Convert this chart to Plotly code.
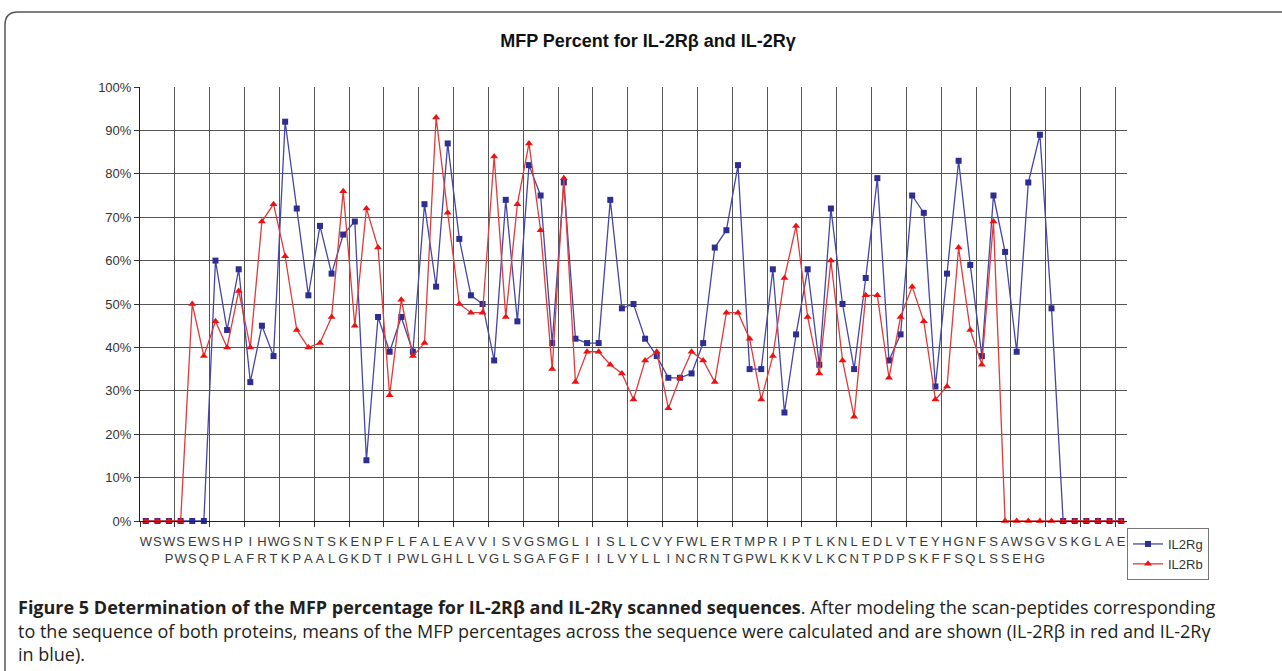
import plotly.graph_objects as go

# ---- data ----
top_letters = list("WSWSEWSHPIHWGSNTSKENPFLFALEAVVISVGSMGLIISLLCVYFWLERTMPRIPTLKNLEDLVTEYHGNFSAWSGVSKGLAE")
bottom_letters = list("PWSQPLAFRTKPAALGKDTIPWLGHLLVGLSGAFGFIILVYLLINCRNTGPWLKKVLKCNTPDPSKFFSQLSSEHG")
bottom_offset = 2  # second label row starts under the third position

il2rg = [0, 0, 0, 0, 0, 0,
         60, 44, 58, 32, 45, 38, 92, 72, 52, 68, 57, 66, 69, 14, 47, 39,
         47, 39, 73, 54, 87, 65, 52, 50, 37, 74, 46, 82, 75, 41, 78, 42, 41, 41, 74, 49, 50,
         42, 38, 33, 33, 34, 41, 63, 67, 82, 35, 35, 58, 25, 43, 58, 36, 72, 50, 35, 56, 79, 37,
         43, 75, 71, 31, 57, 83, 59, 38, 75, 62, 39, 78, 89, 49,
         0, 0, 0, 0, 0, 0]
il2rb = [0, 0, 0, 0,
         50, 38, 46, 40, 53, 40, 69, 73, 61, 44, 40, 41, 47, 76, 45, 72, 63, 29,
         51, 38, 41, 93, 71, 50, 48, 48, 84, 47, 73, 87, 67, 35, 79, 32, 39, 39, 36, 34, 28,
         37, 39, 26, 33, 39, 37, 32, 48, 48, 42, 28, 38, 56, 68, 47, 34, 60, 37, 24, 52, 52, 33,
         47, 54, 46, 28, 31, 63, 44, 36, 69,
         0, 0, 0, 0, 0, 0, 0, 0, 0, 0, 0]
y_ticks = [0, 10, 20, 30, 40, 50, 60, 70, 80, 90, 100]

n = len(top_letters)
positions = list(range(n))
tick_text = []
for i in positions:
    j = i - bottom_offset
    if 0 <= j < len(bottom_letters):
        tick_text.append(top_letters[i] + "<br>" + bottom_letters[j])
    else:
        tick_text.append(top_letters[i])

W, H = 1282, 671
ML, MR, MT, MB = 140, 155, 87, 150
PW, PH = W - ML - MR, H - MT - MB


def px(x):
    return (x - ML) / PW


def py(y):
    return (H - MB - y) / PH


ARIAL = "Liberation Sans, Arial, sans-serif"

fig = go.Figure()
fig.add_trace(go.Scatter(
    x=positions, y=il2rg, name="IL2Rg", mode="lines+markers",
    line=dict(color="#4646a6", width=1.3),
    marker=dict(symbol="square", size=6, color="#2d2d92"),
    cliponaxis=False, xaxis="x", yaxis="y"))
fig.add_trace(go.Scatter(
    x=positions, y=il2rb, name="IL2Rb", mode="lines+markers",
    line=dict(color="#e23a3a", width=1.3),
    marker=dict(symbol="triangle-up", size=7, color="#ee1111"),
    cliponaxis=False, xaxis="x2", yaxis="y"))

rng = [-0.5, n - 0.5]
fig.update_layout(
    width=W, height=H,
    margin=dict(l=ML, r=MR, t=MT, b=MB, pad=0),
    paper_bgcolor="white", plot_bgcolor="white",
    font=dict(family=ARIAL, size=12, color="#333333"),
    title=dict(text="<b>MFP Percent for IL-2Rβ and IL-2Rγ</b>",
               x=648 / W, xref="container", xanchor="center",
               y=1 - 41 / H, yref="container", yanchor="middle",
               font=dict(family=ARIAL, size=18, color="#111111")),
    xaxis=dict(range=rng, tickmode="linear", tick0=-0.5, dtick=3,
               showticklabels=False, ticks="outside", ticklen=5,
               tickcolor="#333333", showgrid=True, gridcolor="#555555",
               gridwidth=1, showline=True, linecolor="#222222",
               zeroline=False),
    xaxis2=dict(range=rng, overlaying="x", anchor="y", side="bottom",
                tickmode="array", tickvals=positions, ticktext=tick_text,
                tickangle=0, ticks="", showgrid=False, showline=False,
                zeroline=False, ticklabelstandoff=11,
                tickfont=dict(family=ARIAL, size=13, color="#3a3a3a")),
    yaxis=dict(range=[0, 100], tickmode="array", tickvals=y_ticks,
               ticktext=[f"{v}%" for v in y_ticks],
               ticks="outside", ticklen=5, tickcolor="#333333",
               showgrid=True, gridcolor="#555555", gridwidth=1,
               showline=True, linecolor="#222222", zeroline=False,
               tickfont=dict(family=ARIAL, size=13, color="#333333")),
    legend=dict(x=px(1127), y=py(528), xanchor="left", yanchor="top",
                bordercolor="#777777", borderwidth=1, bgcolor="white",
                font=dict(family=ARIAL, size=13, color="#333333"),
                tracegroupgap=0, itemwidth=30),
    showlegend=True,
)

# figure frame (rounded corner box)
fig.add_shape(type="path", xref="paper", yref="paper",
              path=(f"M {px(1300)},{py(12)} L {px(18)},{py(12)} "
                    f"Q {px(5)},{py(12)} {px(5)},{py(25)} L {px(5)},{py(680)}"),
              line=dict(color="#555555", width=1.5))

CAP = "Open Sans, sans-serif"
caption_lines = [
    "<b>Figure 5 Determination of the MFP percentage for IL-2Rβ and IL-2Rγ scanned sequences</b>. "
    "After modeling the scan-peptides corresponding",
    "to the sequence of both proteins, means of the MFP percentages across the sequence were "
    "calculated and are shown (IL-2Rβ in red and IL-2Rγ",
    "in blue).",
]
caption_y = [607, 631, 654]
for t, yy in zip(caption_lines, caption_y):
    fig.add_annotation(text=t, x=px(16), y=py(yy), xref="paper", yref="paper",
                       xanchor="left", yanchor="middle", showarrow=False,
                       font=dict(family=CAP, size=18, color="#231f20"))

fig.write_html("out.html", config={"displayModeBar": False},
               post_script="document.body.style.margin='0px';")
